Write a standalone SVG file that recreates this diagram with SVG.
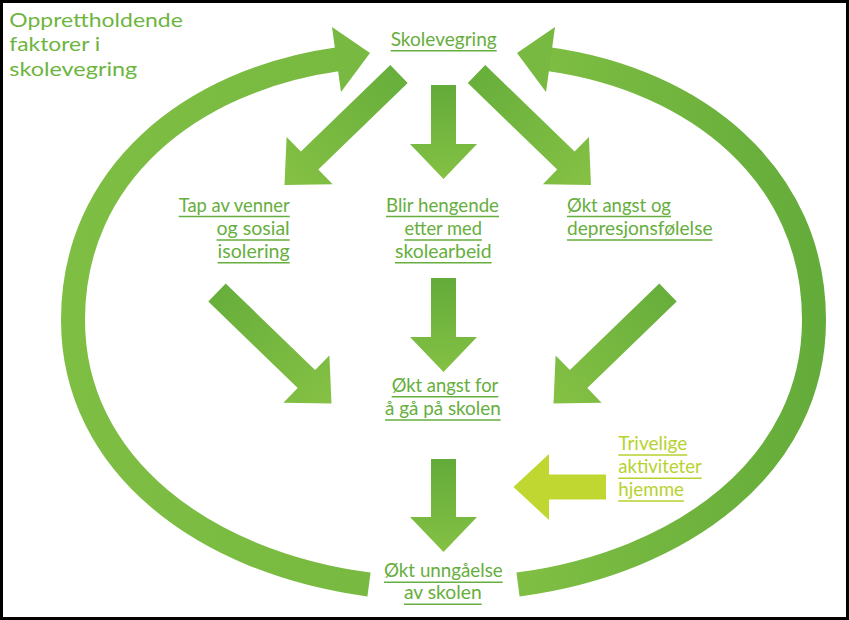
<svg xmlns="http://www.w3.org/2000/svg" width="849" height="620" viewBox="0 0 849 620">
<defs>
<style>
.t{font-family:Lato,"Liberation Sans",sans-serif;font-size:19px;fill:#66ae3d}
.ttl{font-family:Lato,"Liberation Sans",sans-serif;font-size:20px;fill:#6db540}
.ty{fill:#b7d22e}
.ul{stroke:#66ae3d;stroke-width:1.5}
.uy{stroke:#b7d22e;stroke-width:1.5}
.arc{fill:none;stroke-width:24}
</style>
<linearGradient id="gDown" x1="0" y1="0" x2="0" y2="1"><stop offset="0" stop-color="#63ab3a"/><stop offset="1" stop-color="#84c144"/></linearGradient>
<linearGradient id="gDL" x1="1" y1="0" x2="0" y2="1"><stop offset="0" stop-color="#65ad3b"/><stop offset="1" stop-color="#85c144"/></linearGradient>
<linearGradient id="gDR" x1="0" y1="0" x2="1" y2="1"><stop offset="0" stop-color="#65ad3b"/><stop offset="1" stop-color="#85c144"/></linearGradient>
<linearGradient id="gArcL" gradientUnits="userSpaceOnUse" x1="60" y1="0" x2="370" y2="0"><stop offset="0" stop-color="#7ebe43"/><stop offset="1" stop-color="#78b941"/></linearGradient>
<linearGradient id="gArcR" gradientUnits="userSpaceOnUse" x1="515" y1="0" x2="826" y2="0"><stop offset="0" stop-color="#80bf43"/><stop offset="1" stop-color="#63ab3a"/></linearGradient>
</defs>
<rect x="1.5" y="1.5" width="846" height="617" fill="#ffffff" stroke="#000000" stroke-width="3"/>

<g id="connectors">
<path class="arc" stroke="url(#gArcL)" d="M 369 584.5 C 204 562.5 73 465 73 320 C 73 175 190 80 338.5 59.2"/>
<polygon fill="#78b941" points="332,27 370,53 341,92"/>
<path class="arc" stroke="url(#gArcR)" d="M 518 584.5 C 683 562.5 814 465 814 320 C 814 175 697 80 548.5 59.2"/>
<polygon fill="#78b941" points="555,27 517,53 546,92"/>

<polygon fill="url(#gDL)" points="390.3,65 300.9,151.6 286.6,136.9 284.5,185 332.6,184.3 318.3,169.6 407.7,83"/>
<polygon fill="url(#gDR)" points="485.2,65 574.6,151.6 588.9,136.9 591,185 542.9,184.3 557.2,169.6 467.8,83"/>
<polygon fill="url(#gDown)" points="431,85 456,85 456,144 477,144 443.5,179 410,144 431,144"/>

<polygon fill="url(#gDR)" points="225.7,283.5 315.1,370.1 329.4,355.4 331.5,403.5 283.4,402.8 297.7,388.1 208.3,301.5"/>
<polygon fill="url(#gDown)" points="431,278 456,278 456,337 477,337 443.5,372 410,337 431,337"/>
<polygon fill="url(#gDL)" points="659.3,283.5 569.9,370.1 555.6,355.4 553.5,403.5 601.6,402.8 587.3,388.1 676.7,301.5"/>

<polygon fill="url(#gDown)" points="431,459 456,459 456,517 477,517 443.5,552 410,517 431,517"/>
<polygon fill="#bfd730" points="606,474.5 549,474.5 549,454 513.5,487 549,520 549,499.5 606,499.5"/>
</g>

<g id="title">
<text class="ttl" x="9.3" y="27" textLength="173.5" lengthAdjust="spacingAndGlyphs">Opprettholdende</text>
<text class="ttl" x="9.3" y="51.3" textLength="91" lengthAdjust="spacingAndGlyphs">faktorer i</text>
<text class="ttl" x="9.3" y="75.6" textLength="128" lengthAdjust="spacingAndGlyphs">skolevegring</text>
</g>

<g id="n-skolevegring">
<text class="t" x="390.7" y="45.7" textLength="106" lengthAdjust="spacingAndGlyphs">Skolevegring</text>
<line class="ul" x1="390.7" y1="50.7" x2="496.7" y2="50.7"/>
</g>

<g id="n-tap">
<text class="t" x="178.7" y="211.6" textLength="111" lengthAdjust="spacingAndGlyphs">Tap av venner</text>
<line class="ul" x1="178.7" y1="216.6" x2="289.7" y2="216.6"/>
<text class="t" x="216.6" y="235" textLength="73.1" lengthAdjust="spacingAndGlyphs">og sosial</text>
<line class="ul" x1="216.6" y1="240" x2="289.7" y2="240"/>
<text class="t" x="217.6" y="257.8" textLength="72.1" lengthAdjust="spacingAndGlyphs">isolering</text>
<line class="ul" x1="217.6" y1="262.8" x2="289.7" y2="262.8"/>
</g>

<g id="n-blir">
<text class="t" x="386" y="211.6" textLength="113" lengthAdjust="spacingAndGlyphs">Blir hengende</text>
<line class="ul" x1="386" y1="216.6" x2="499" y2="216.6"/>
<text class="t" x="404.4" y="235" textLength="77.5" lengthAdjust="spacingAndGlyphs">etter med</text>
<line class="ul" x1="404.4" y1="240" x2="481.9" y2="240"/>
<text class="t" x="395" y="257.8" textLength="96.6" lengthAdjust="spacingAndGlyphs">skolearbeid</text>
<line class="ul" x1="395" y1="262.8" x2="491.6" y2="262.8"/>
</g>

<g id="n-angst-dep">
<text class="t" x="567" y="211.6" textLength="104" lengthAdjust="spacingAndGlyphs">Økt angst og</text>
<line class="ul" x1="567" y1="216.6" x2="671" y2="216.6"/>
<text class="t" x="567" y="235" textLength="145.5" lengthAdjust="spacingAndGlyphs">depresjonsfølelse</text>
<line class="ul" x1="567" y1="240" x2="712.5" y2="240"/>
</g>

<g id="n-angst-skole">
<text class="t" x="391.7" y="391.7" textLength="106.6" lengthAdjust="spacingAndGlyphs">Økt angst for</text>
<line class="ul" x1="391.7" y1="396.7" x2="498.3" y2="396.7"/>
<text class="t" x="385" y="415" textLength="115.7" lengthAdjust="spacingAndGlyphs">å gå på skolen</text>
<line class="ul" x1="385" y1="420" x2="500.7" y2="420"/>
</g>

<g id="n-unngaelse">
<text class="t" x="384" y="577.3" textLength="118.7" lengthAdjust="spacingAndGlyphs">Økt unngåelse</text>
<line class="ul" x1="384" y1="582.3" x2="502.7" y2="582.3"/>
<text class="t" x="404" y="599.3" textLength="77.7" lengthAdjust="spacingAndGlyphs">av skolen</text>
<line class="ul" x1="404" y1="604.3" x2="481.7" y2="604.3"/>
</g>

<g id="n-trivelige">
<text class="t ty" x="618.3" y="450" textLength="69" lengthAdjust="spacingAndGlyphs">Trivelige</text>
<line class="uy" x1="618.3" y1="455" x2="687.3" y2="455"/>
<text class="t ty" x="618.3" y="473.3" textLength="83.4" lengthAdjust="spacingAndGlyphs">aktiviteter</text>
<line class="uy" x1="618.3" y1="478.3" x2="701.7" y2="478.3"/>
<text class="t ty" x="618.3" y="496" textLength="65.7" lengthAdjust="spacingAndGlyphs">hjemme</text>
<line class="uy" x1="618.3" y1="501" x2="684" y2="501"/>
</g>
</svg>
